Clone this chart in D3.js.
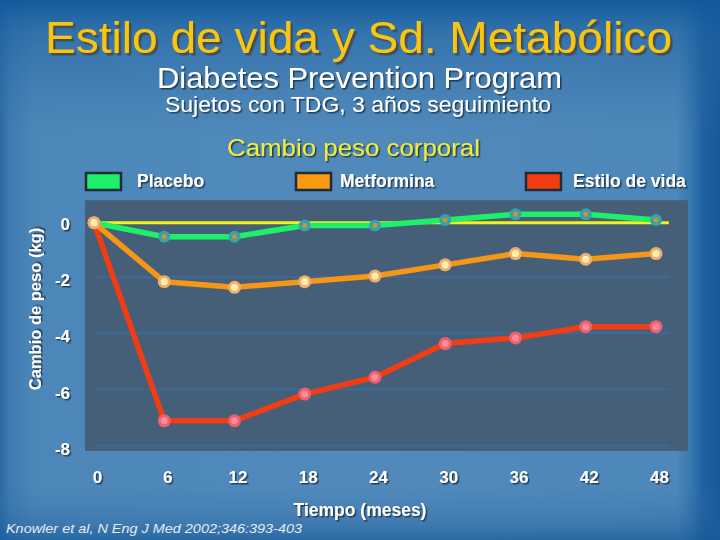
<!DOCTYPE html>
<html>
<head>
<meta charset="utf-8">
<script src="https://cdn.jsdelivr.net/npm/d3@7"></script>
<style>
  html, body { margin: 0; padding: 0; background: #4f88b9; }
  svg { display: block; }
  .bold { font-family: "Liberation Sans", Arial, sans-serif; font-weight: bold; }
</style>
</head>
<body>
<svg id="chart" width="720" height="540"></svg>
<script>
// ---- Data ----
const months = [0, 6, 12, 18, 24, 30, 36, 42, 48];
const placebo = [0, -0.5, -0.5, -0.1, -0.1, 0.1, 0.3, 0.3, 0.1];
const metformina = [0, -2.1, -2.3, -2.1, -1.9, -1.5, -1.1, -1.3, -1.1];
const estiloVida = [0, -7.05, -7.05, -6.1, -5.5, -4.3, -4.1, -3.7, -3.7];
const yTickValues = [0, -2, -4, -6, -8];
const xTickValues = [0, 6, 12, 18, 24, 30, 36, 42, 48];
const seriesNames = ["Placebo", "Metformina", "Estilo de vida"];

const title = "Estilo de vida y Sd. Metabólico";
const subtitle1 = "Diabetes Prevention Program";
const subtitle2 = "Sujetos con TDG, 3 años seguimiento";
const chartTitle = "Cambio peso corporal";
const yLabel = "Cambio de peso (kg)";
const xLabel = "Tiempo (meses)";
const footnote = "Knowler et al, N Eng J Med 2002;346:393-403";

// ---- Setup ----
const W = 720, H = 540;
const svg = d3.select("#chart");
const defs = svg.append("defs");

const hg = defs.append("linearGradient").attr("id", "bgH").attr("x1", 0).attr("x2", 1).attr("y1", 0).attr("y2", 0);
[[0, "#2d6aa4"], [0.015, "#3f7cb2"], [0.05, "#4d87b9"], [0.5, "#5189bb"], [0.94, "#4e87b9"], [0.962, "#3474ad"], [0.975, "#1f62a0"], [1, "#175a98"]]
  .forEach(([o, c]) => hg.append("stop").attr("offset", o).attr("stop-color", c));
const vg = defs.append("linearGradient").attr("id", "bgV").attr("x1", 0).attr("x2", 0).attr("y1", 0).attr("y2", 1);
[[0, "#10589a", 0.95], [0.06, "#1a60a0", 0.55], [0.25, "#2f6ea8", 0.0], [0.9, "#2f6ea8", 0.0], [0.97, "#1f5f9c", 0.35], [1, "#175a98", 0.7]]
  .forEach(([o, c, a]) => vg.append("stop").attr("offset", o).attr("stop-color", c).attr("stop-opacity", a));

const shadow = defs.append("filter").attr("id", "shadow").attr("x", "-10%").attr("y", "-20%").attr("width", "130%").attr("height", "150%");
shadow.append("feDropShadow").attr("dx", 1.5).attr("dy", 1.5).attr("stdDeviation", 0.4).attr("flood-color", "#1d2a38").attr("flood-opacity", 0.8);
const shadowBig = defs.append("filter").attr("id", "shadowBig").attr("x", "-10%").attr("y", "-20%").attr("width", "130%").attr("height", "150%");
shadowBig.append("feDropShadow").attr("dx", 2.5).attr("dy", 2.5).attr("stdDeviation", 0.5).attr("flood-color", "#4a4a48").attr("flood-opacity", 0.9);

svg.append("rect").attr("width", W).attr("height", H).attr("fill", "url(#bgH)");
svg.append("rect").attr("width", W).attr("height", H).attr("fill", "url(#bgV)");

// ---- Titles ----
function titleText(t, cx, yb, size, fill, len, filt) {
  const el = svg.append("text").attr("x", cx - len / 2).attr("y", yb)
    .attr("font-family", "Liberation Sans, Arial, sans-serif").attr("font-size", size)
    .attr("fill", fill).attr("textLength", len).attr("lengthAdjust", "spacingAndGlyphs").text(t);
  if (filt) el.attr("filter", filt);
  return el;
}
titleText(title, 358.5, 53, 45, "#f8c70c", 627, "url(#shadowBig)");
titleText(subtitle1, 359.5, 88, 29, "#ffffff", 405, "url(#shadow)");
titleText(subtitle2, 358, 112, 22, "#ffffff", 386, "url(#shadow)");
titleText(chartTitle, 353.5, 156, 24.5, "#ecee3a", 253, "url(#shadow)");

// ---- Scales ----
const x = d3.scaleLinear().domain([0, 48]).range([94, 656]);
const y = d3.scaleLinear().domain([0, -8]).range([222.7, 447.5]);

const plotLeft = 85, plotRight = 688, plotTop = y(0.8), plotBottom = y(-8.12);
svg.append("rect").attr("x", plotLeft).attr("y", plotTop)
  .attr("width", plotRight - plotLeft).attr("height", plotBottom - plotTop)
  .attr("fill", "#465f79");

// gridlines
svg.append("g").selectAll("line").data(yTickValues.filter(d => d !== 0)).join("line")
  .attr("x1", x(0)).attr("x2", x(49.1))
  .attr("y1", d => y(d) - 2).attr("y2", d => y(d) - 2)
  .attr("stroke", "#3d6994").attr("stroke-width", 2);

// zero line
svg.append("line").attr("x1", x(0)).attr("x2", x(49.1)).attr("y1", y(0)).attr("y2", y(0))
  .attr("stroke", "#f2f21e").attr("stroke-width", 3);

// ---- Axes ----
const yAxis = svg.append("g").attr("transform", `translate(${plotLeft - 12},0)`)
  .call(d3.axisLeft(y).tickValues(yTickValues).tickSize(0).tickFormat(d => String(d)));
yAxis.select(".domain").remove();
yAxis.selectAll("text").attr("class", "bold").attr("font-size", 17).attr("fill", "#ffffff")
  .attr("filter", "url(#shadow)").attr("dy", "0.4em").attr("dx", 0);

const xAxis = svg.append("g").attr("transform", `translate(3,${plotBottom + 15})`)
  .call(d3.axisBottom(x).tickValues(xTickValues).tickSize(0).tickFormat(d => String(d)));
xAxis.select(".domain").remove();
xAxis.selectAll("text").attr("class", "bold").attr("font-size", 17).attr("fill", "#ffffff")
  .attr("filter", "url(#shadow)").attr("dy", "0.85em");

svg.append("text").attr("class", "bold").attr("x", 360).attr("y", 516).attr("text-anchor", "middle")
  .attr("font-size", 17.5).attr("fill", "#ffffff").attr("filter", "url(#shadow)").text(xLabel);

svg.append("text").attr("class", "bold")
  .attr("transform", `translate(41,309) rotate(-90)`).attr("text-anchor", "middle")
  .attr("font-size", 16.5).attr("fill", "#ffffff").attr("filter", "url(#shadow)").text(yLabel);

svg.append("text").attr("x", 6).attr("y", 533)
  .attr("font-family", "Liberation Sans, Arial, sans-serif")
  .attr("font-style", "italic").attr("font-size", 13.5).attr("fill", "#e4ebf3")
  .attr("textLength", 296).attr("lengthAdjust", "spacingAndGlyphs").text(footnote);

// ---- Series ----
const series = [
  { name: seriesNames[2], values: estiloVida, line: "#f23d12", ring: "#ee5f72", dot: "#ff8a98", rOuter: 6.5, rInner: 3.5 },
  { name: seriesNames[0], values: placebo, line: "#1ef06a", ring: "#36a3ac", dot: "#e0901e", rOuter: 6, rInner: 2.4 },
  { name: seriesNames[1], values: metformina, line: "#f59616", ring: "#f0ad72", dot: "#fff1a6", rOuter: 6.5, rInner: 3.6 }
];

const lineGen = d3.line().x((d, i) => x(months[i])).y(d => y(d));

series.forEach(s => {
  svg.append("path").datum(s.values).attr("d", lineGen)
    .attr("fill", "none").attr("stroke", s.line).attr("stroke-width", 5.5)
    .attr("stroke-linejoin", "round");
});
series.forEach(s => {
  const g = svg.append("g");
  g.selectAll("circle.o").data(s.values).join("circle").attr("class", "o")
    .attr("cx", (d, i) => x(months[i])).attr("cy", d => y(d)).attr("r", s.rOuter).attr("fill", s.ring);
  g.selectAll("circle.i").data(s.values).join("circle").attr("class", "i")
    .attr("cx", (d, i) => x(months[i])).attr("cy", d => y(d)).attr("r", s.rInner).attr("fill", s.dot);
});

// ---- Legend ----
const legend = [
  { name: seriesNames[0], color: "#1ef06a", sx: 86, tx: 137 },
  { name: seriesNames[1], color: "#fb9a0e", sx: 296, tx: 340 },
  { name: seriesNames[2], color: "#f23d12", sx: 526, tx: 573 }
];
const lg = svg.append("g");
legend.forEach(l => {
  lg.append("rect").attr("x", l.sx).attr("y", 173).attr("width", 35).attr("height", 17)
    .attr("fill", l.color).attr("stroke", "#1f2b38").attr("stroke-width", 2.5);
  lg.append("text").attr("class", "bold").attr("x", l.tx).attr("y", 187)
    .attr("font-size", 17.5).attr("fill", "#ffffff").attr("filter", "url(#shadow)").text(l.name);
});
</script>
</body>
</html>
